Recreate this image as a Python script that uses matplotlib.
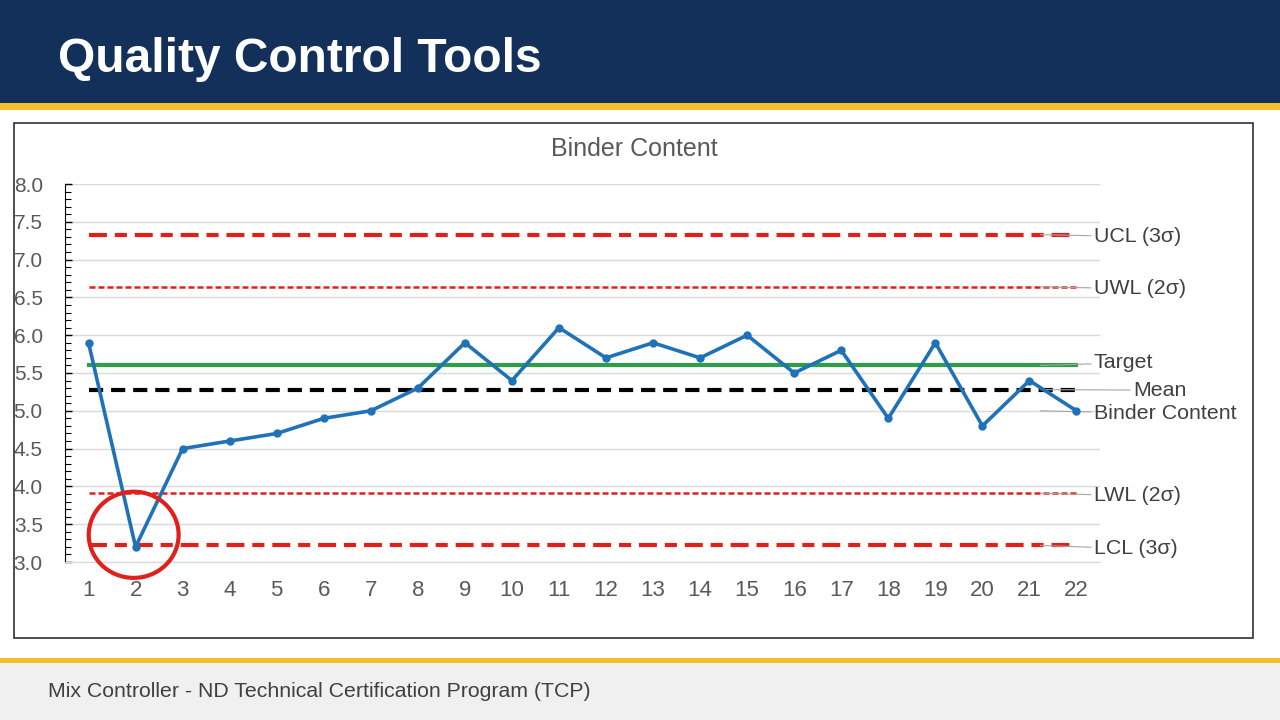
import matplotlib.pyplot as plt
from matplotlib.patches import Rectangle, Ellipse
from matplotlib.ticker import MultipleLocator

plt.rcParams['font.family'] = ['Liberation Sans', 'DejaVu Sans']

# data
samples = list(range(1, 23))
binder = [5.9, 3.2, 4.5, 4.6, 4.7, 4.9, 5.0, 5.3, 5.9, 5.4, 6.1,
          5.7, 5.9, 5.7, 6.0, 5.5, 5.8, 4.9, 5.9, 4.8, 5.4, 5.0]
ucl = 7.33
uwl = 6.64
target = 5.6
mean = 5.28
lwl = 3.91
lcl = 3.22

fig = plt.figure(figsize=(12.8, 7.2), dpi=100)
fig.patch.set_facecolor('white')

# slide header / footer
fig.add_artist(Rectangle((0, 1 - 103 / 720), 1, 103 / 720, transform=fig.transFigure,
                         facecolor='#13305a', edgecolor='none', zorder=0))
fig.add_artist(Rectangle((0, 1 - 110 / 720), 1, 7 / 720, transform=fig.transFigure,
                         facecolor='#f2bf2e', edgecolor='none', zorder=0))
fig.text(58 / 1280, 1 - 72 / 720, 'Quality Control Tools', color='white',
         fontsize=34.5, fontweight='bold', va='baseline', ha='left')
fig.add_artist(Rectangle((0, 0), 1, 57 / 720, transform=fig.transFigure,
                         facecolor='#f0f0f0', edgecolor='none', zorder=0))
fig.add_artist(Rectangle((0, 57 / 720), 1, 5 / 720, transform=fig.transFigure,
                         facecolor='#f2bf2e', edgecolor='none', zorder=0))
fig.text(48 / 1280, 1 - 697 / 720, 'Mix Controller - ND Technical Certification Program (TCP)',
         color='#404040', fontsize=15.3, va='baseline', ha='left')

# chart box
fig.add_artist(Rectangle((14 / 1280, 1 - 638 / 720), (1253 - 14) / 1280, (638 - 123) / 720,
                         transform=fig.transFigure, facecolor='none',
                         edgecolor='#303030', lw=1.2, zorder=1))
fig.text(634 / 1280, 1 - 156 / 720, 'Binder Content', color='#595959',
         fontsize=18, ha='center', va='baseline')

ax = fig.add_axes([65 / 1280, 1 - 562 / 720, (1100 - 65) / 1280, (562 - 184) / 720])
ax.set_xlim(0.5, 22.5)
ax.set_ylim(3.0, 8.0)

red = '#e0201b'
long_dash = (4.3, 1.9, 2.9, 1.9)
short_dash = (2.4, 1.2)
ax.plot([1, 22], [ucl, ucl], color=red, lw=3, dashes=long_dash, zorder=3)
ax.plot([1, 22], [uwl, uwl], color=red, lw=1.8, dashes=short_dash, zorder=3)
ax.plot([1, 22], [target, target], color='#2e9e48', lw=3, zorder=3)
ax.plot([1, 22], [mean, mean], color='black', lw=3, dashes=(3.4, 1.9), zorder=3)
ax.plot([1, 22], [lwl, lwl], color=red, lw=1.8, dashes=short_dash, zorder=3)
ax.plot([1, 22], [lcl, lcl], color=red, lw=3, dashes=long_dash, zorder=3)
ax.plot(samples, binder, color='#1f72b8', lw=2.6, marker='o', markersize=5, zorder=5)

# data labels with leader lines
labels = [
    ('UCL (3σ)', ucl, 22.37, 7.33),
    ('UWL (2σ)', uwl, 22.37, 6.64),
    ('Target', target, 22.37, 5.66),
    ('Mean', mean, 23.2, 5.30),
    ('Binder Content', binder[-1], 22.37, 4.99),
    ('LWL (2σ)', lwl, 22.37, 3.90),
    ('LCL (3σ)', lcl, 22.37, 3.20),
]
for text, yv, tx, ty in labels:
    ax.annotate(text, xy=(21.2, yv), xytext=(tx, ty), textcoords='data',
                fontsize=15.4, color='#404040', ha='left', va='center_baseline',
                annotation_clip=False,
                arrowprops=dict(arrowstyle='-', color='#a6a6a6', lw=0.8,
                                shrinkA=0, shrinkB=1))

# red circle around the outlier
ax.add_patch(Ellipse((1.96, 3.36), 1.91, 1.14, facecolor='none', edgecolor=red,
                     lw=3, clip_on=False, zorder=6))

ax.set_xticks(samples)
ax.yaxis.set_major_locator(MultipleLocator(0.5))
ax.yaxis.set_minor_locator(MultipleLocator(0.1))
ax.yaxis.set_major_formatter(plt.FormatStrFormatter('%.1f'))
ax.grid(axis='y', color='#d9d9d9', lw=1, zorder=0)
ax.set_axisbelow(True)
ax.tick_params(axis='y', which='major', direction='in', length=5, width=1,
               labelsize=15, labelcolor='#595959', pad=16)
ax.tick_params(axis='y', which='minor', direction='in', length=4, width=0.8)
ax.tick_params(axis='x', length=0, labelsize=16, labelcolor='#595959', pad=13)
for s in ['top', 'right']:
    ax.spines[s].set_visible(False)
ax.spines['bottom'].set_color('#d9d9d9')
ax.spines['left'].set_color('black')

plt.savefig('out.png', dpi=100)
